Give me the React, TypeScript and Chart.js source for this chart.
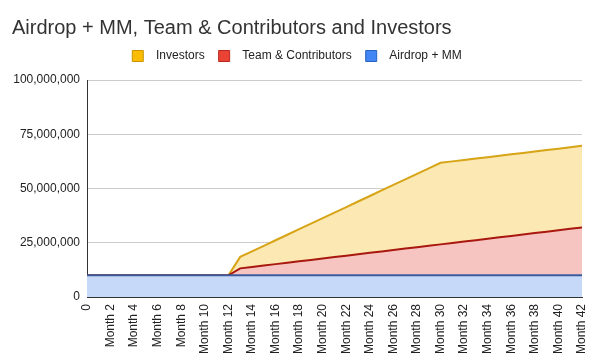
import React, { useEffect, useRef } from 'react';
import { Chart, registerables } from 'chart.js';

Chart.register(...registerables);

const categories = [
  '0', 'Month 1', 'Month 2', 'Month 3', 'Month 4', 'Month 5', 'Month 6', 'Month 7', 'Month 8', 'Month 9',
  'Month 10', 'Month 11', 'Month 12', 'Month 13', 'Month 14', 'Month 15', 'Month 16', 'Month 17', 'Month 18', 'Month 19',
  'Month 20', 'Month 21', 'Month 22', 'Month 23', 'Month 24', 'Month 25', 'Month 26', 'Month 27', 'Month 28', 'Month 29',
  'Month 30', 'Month 31', 'Month 32', 'Month 33', 'Month 34', 'Month 35', 'Month 36', 'Month 37', 'Month 38', 'Month 39',
  'Month 40', 'Month 41', 'Month 42',
];

const airdropMM = [
  10000000, 10000000, 10000000, 10000000, 10000000, 10000000, 10000000, 10000000, 10000000, 10000000,
  10000000, 10000000, 10000000, 10000000, 10000000, 10000000, 10000000, 10000000, 10000000, 10000000,
  10000000, 10000000, 10000000, 10000000, 10000000, 10000000, 10000000, 10000000, 10000000, 10000000,
  10000000, 10000000, 10000000, 10000000, 10000000, 10000000, 10000000, 10000000, 10000000, 10000000,
  10000000, 10000000, 10000000,
];

const teamContributors = [
  0, 0, 0, 0, 0, 0, 0, 0, 0, 0,
  0, 0, 0, 3200000, 3850000, 4500000, 5150000, 5800000, 6450000, 7100000,
  7750000, 8400000, 9050000, 9700000, 10350000, 11000000, 11650000, 12300000, 12950000, 13600000,
  14250000, 14900000, 15550000, 16200000, 16850000, 17500000, 18150000, 18800000, 19450000, 20100000,
  20750000, 21400000, 22050000,
];

const investors = [
  0, 0, 0, 0, 0, 0, 0, 0, 0, 0,
  0, 0, 0, 5300000, 7200000, 9100000, 11000000, 12900000, 14800000, 16700000,
  18600000, 20500000, 22400000, 24300000, 26200000, 28100000, 30000000, 31900000, 33800000, 35700000,
  37600000, 37600000, 37600000, 37600000, 37600000, 37600000, 37600000, 37600000, 37600000, 37600000,
  37600000, 37600000, 37600000,
];

const seriesNames = ['Airdrop + MM', 'Team & Contributors', 'Investors'];
const legendColors = ['#4285f4', '#ea4335', '#fbbc04'];
const legendBorders = ['#2a62c0', '#b8281c', '#c99400'];
const lineColors = ['#3c5b9c', '#a8180f', '#d6a416'];
const fillColors = ['#c6d9f8', '#f7c5c1', '#fce8b2'];

const yMax = 100000000;
const yStep = 25000000;
const titleText = 'Airdrop + MM, Team & Contributors and Investors';

const FONT = "Arial, 'Liberation Sans', Helvetica, sans-serif";

const legendSpacer = {
  id: 'legendSpacer',
  beforeInit(chart: any) {
    const legend = chart.legend;
    if (!legend) return;
    const origFit = legend.fit;
    legend.fit = function () {
      origFit.call(this);
      this.height += 8;
    };
  },
};

export default function App() {
  const ref = useRef<HTMLCanvasElement | null>(null);

  useEffect(() => {
    if (!ref.current) return;
    const seriesData = [airdropMM, teamContributors, investors];
    const chart = new Chart(ref.current, {
      type: 'line',
      data: {
        labels: categories,
        datasets: seriesData.map((d, i) => ({
          label: seriesNames[i],
          data: d,
          borderColor: lineColors[i],
          backgroundColor: fillColors[i],
          borderWidth: 2,
          pointRadius: 0,
          tension: 0,
          fill: i === 0 ? 'origin' : '-1',
        })),
      },
      plugins: [legendSpacer],
      options: {
        animation: false,
        responsive: false,
        maintainAspectRatio: false,
        layout: { padding: { left: 12, right: 16, top: 6, bottom: 0 } },
        plugins: {
          tooltip: { enabled: false },
          title: {
            display: true,
            text: titleText,
            align: 'start',
            color: '#333333',
            font: { family: FONT, size: 20, weight: 'normal' },
            padding: { top: 10, bottom: -4 },
          },
          legend: {
            display: true,
            reverse: true,
            labels: {
              boxWidth: 11,
              boxHeight: 11,
              padding: 14,
              color: '#222222',
              font: { family: FONT, size: 12 },
              generateLabels: (chart: any) => {
                const items = Chart.defaults.plugins.legend.labels.generateLabels(chart);
                return items.map((it: any) => ({
                  ...it,
                  text: '  ' + it.text,
                  fillStyle: legendColors[it.datasetIndex],
                  strokeStyle: legendBorders[it.datasetIndex],
                  lineWidth: 1,
                }));
              },
            },
          },
        },
        scales: {
          x: {
            offset: false,
            grid: { display: false, drawTicks: false },
            border: { display: true, color: '#333333', width: 1 },
            ticks: {
              autoSkip: false,
              maxRotation: 90,
              minRotation: 90,
              padding: 7,
              color: '#222222',
              font: { family: FONT, size: 12 },
              callback: (_v: any, i: number) => (i % 2 === 0 ? categories[i] : ''),
            },
            afterFit: (s: any) => {
              s.height = 67;
              s.paddingRight = 0;
              s.paddingLeft = 0;
            },
          },
          y: {
            stacked: true,
            min: 0,
            max: yMax,
            grid: { color: '#cccccc', drawTicks: false },
            border: { display: true, color: '#333333', width: 1 },
            ticks: {
              stepSize: yStep,
              padding: 7,
              color: '#222222',
              font: { family: FONT, size: 12 },
              callback: (v: any) => Number(v).toLocaleString('en-US'),
            },
            afterFit: (s: any) => {
              s.width = 75;
            },
          },
        },
      },
    });
    return () => chart.destroy();
  }, []);

  return (
    <div style={{ position: 'absolute', left: 0, top: 0, width: 598, height: 364, background: '#ffffff' }}>
      <canvas ref={ref} width={598} height={364} style={{ display: 'block', width: 598, height: 364 }} />
    </div>
  );
}
